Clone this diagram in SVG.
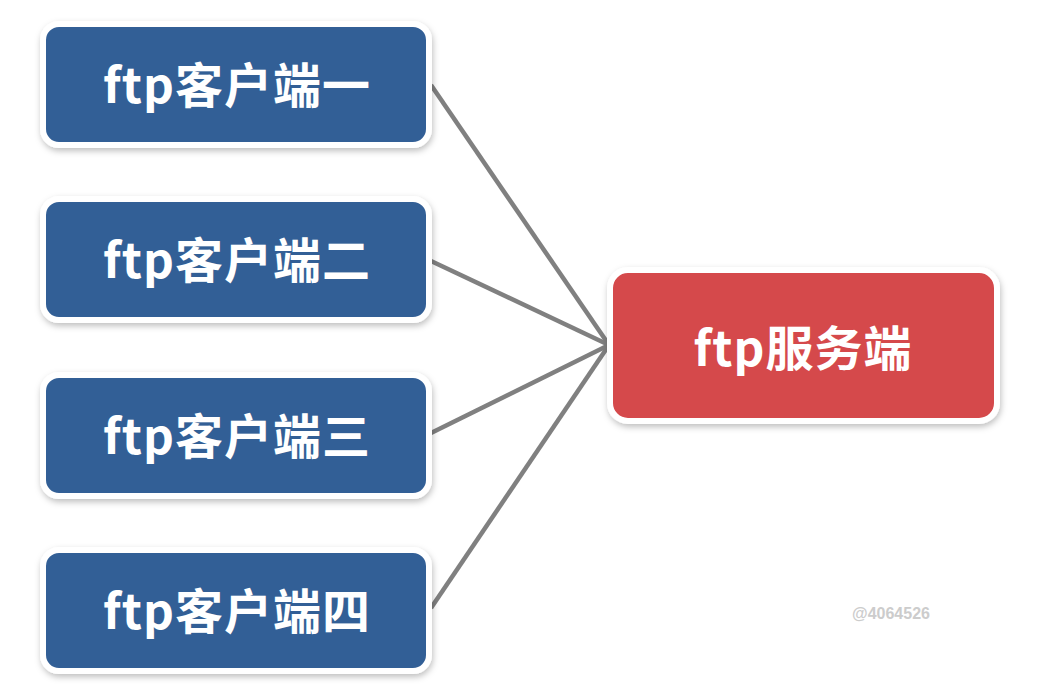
<svg xmlns="http://www.w3.org/2000/svg" width="1054" height="685" viewBox="0 0 1054 685">
<defs>
<filter id="sh" x="-10%" y="-20%" width="120%" height="140%">
<feDropShadow dx="1" dy="3" stdDeviation="3" flood-color="#000" flood-opacity="0.25"/>
</filter>
<style>
.c{fill:#335f96;stroke:#fff;stroke-width:6;filter:url(#sh)}
.s{fill:#d5484b;stroke:#fff;stroke-width:6;filter:url(#sh)}
.t{font-family:"Noto Sans CJK SC","Liberation Sans",sans-serif;font-weight:bold;font-size:48px;letter-spacing:1px;fill:#fff;text-anchor:middle}
.l{stroke:#808080;stroke-width:4.5;fill:none}
</style>
</defs>
<rect width="1054" height="685" fill="#fff"/>
<g id="connectors">
<line class="l" x1="431" y1="85" x2="609" y2="345"/>
<line class="l" x1="431" y1="261" x2="609" y2="345"/>
<line class="l" x1="431" y1="433" x2="609" y2="345"/>
<line class="l" x1="431" y1="608" x2="609" y2="345"/>
</g>
<g id="client1"><rect class="c" x="43" y="24" width="386" height="121" rx="16"/><text class="t" x="237" y="103">ftp客户端一</text></g>
<g id="client2"><rect class="c" x="43" y="199" width="386" height="121" rx="16"/><text class="t" x="237" y="278">ftp客户端二</text></g>
<g id="client3"><rect class="c" x="43" y="375" width="386" height="121" rx="16"/><text class="t" x="237" y="454">ftp客户端三</text></g>
<g id="client4"><rect class="c" x="43" y="550" width="386" height="121" rx="16"/><text class="t" x="237" y="629">ftp客户端四</text></g>
<g id="server"><rect class="s" x="610" y="270" width="387" height="151" rx="18"/><text class="t" x="803" y="366">ftp服务端</text></g>
<text x="891" y="619" font-family="Liberation Sans,sans-serif" font-size="16" font-weight="bold" fill="#cccccc" text-anchor="middle">@4064526</text>
</svg>
